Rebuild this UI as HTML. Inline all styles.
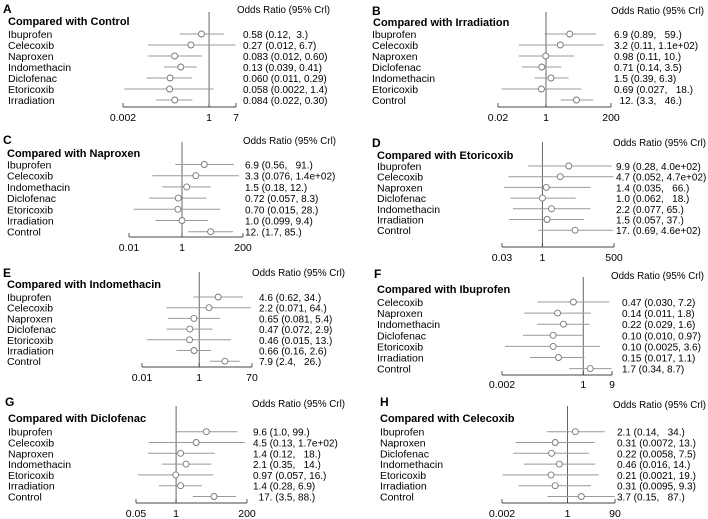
<!DOCTYPE html>
<html><head><meta charset="utf-8"><style>
html,body{margin:0;padding:0;background:#fff;}
svg{display:block;font-family:"Liberation Sans",Arial,sans-serif;}
</style></head><body>
<svg id="chart" width="708" height="519" viewBox="0 0 708 519" xmlns="http://www.w3.org/2000/svg"></svg>
<script>
// ---- data ----
const namesA=["Ibuprofen","Celecoxib","Naproxen","Indomethacin","Diclofenac","Etoricoxib","Irradiation"];
const estA=[0.58,0.27,0.083,0.13,0.060,0.058,0.084];
const loA=[0.12,0.012,0.012,0.039,0.011,0.0022,0.022];
const hiA=[3,6.7,0.60,0.41,0.29,1.4,0.30];
const txtA=["0.58 (0.12,  3.)","0.27 (0.012, 6.7)","0.083 (0.012, 0.60)","0.13 (0.039, 0.41)","0.060 (0.011, 0.29)","0.058 (0.0022, 1.4)","0.084 (0.022, 0.30)"];
const ticksA=["0.002","1","7"];

const namesB=["Ibuprofen","Celecoxib","Naproxen","Diclofenac","Indomethacin","Etoricoxib","Control"];
const estB=[6.9,3.2,0.98,0.71,1.5,0.69,12];
const loB=[0.89,0.11,0.11,0.14,0.39,0.027,3.3];
const hiB=[59,110,10,3.5,6.3,18,46];
const txtB=["6.9 (0.89,   59.)","3.2 (0.11, 1.1e+02)","0.98 (0.11, 10.)","0.71 (0.14, 3.5)","1.5 (0.39, 6.3)","0.69 (0.027,   18.)","  12. (3.3,   46.)"];
const ticksB=["0.02","1","200"];

const namesC=["Ibuprofen","Celecoxib","Indomethacin","Diclofenac","Etoricoxib","Irradiation","Control"];
const estC=[6.9,3.3,1.5,0.72,0.70,1.0,12];
const loC=[0.56,0.076,0.18,0.057,0.015,0.099,1.7];
const hiC=[91,140,12,8.3,28,9.4,85];
const txtC=["6.9 (0.56,   91.)","3.3 (0.076, 1.4e+02)","1.5 (0.18, 12.)","0.72 (0.057, 8.3)","0.70 (0.015, 28.)","1.0 (0.099, 9.4)","12. (1.7, 85.)"];
const ticksC=["0.01","1","200"];

const namesD=["Ibuprofen","Celecoxib","Naproxen","Diclofenac","Indomethacin","Irradiation","Control"];
const estD=[9.9,4.7,1.4,1.0,2.2,1.5,17];
const loD=[0.28,0.052,0.035,0.062,0.077,0.057,0.69];
const hiD=[400,470,66,18,65,37,460];
const txtD=["9.9 (0.28, 4.0e+02)","4.7 (0.052, 4.7e+02)","1.4 (0.035,   66.)","1.0 (0.062,   18.)","2.2 (0.077, 65.)","1.5 (0.057, 37.)","17. (0.69, 4.6e+02)"];
const ticksD=["0.03","1","500"];

const namesE=["Ibuprofen","Celecoxib","Naproxen","Diclofenac","Etoricoxib","Irradiation","Control"];
const estE=[4.6,2.2,0.65,0.47,0.46,0.66,7.9];
const loE=[0.62,0.071,0.081,0.072,0.015,0.16,2.4];
const hiE=[34,64,5.4,2.9,13,2.6,26];
const txtE=["4.6 (0.62, 34.)","2.2 (0.071, 64.)","0.65 (0.081, 5.4)","0.47 (0.072, 2.9)","0.46 (0.015, 13.)","0.66 (0.16, 2.6)","7.9 (2.4,   26.)"];
const ticksE=["0.01","1","70"];

const namesF=["Celecoxib","Naproxen","Indomethacin","Diclofenac","Etoricoxib","Irradiation","Control"];
const estF=[0.47,0.14,0.22,0.10,0.10,0.15,1.7];
const loF=[0.030,0.011,0.029,0.010,0.0025,0.017,0.34];
const hiF=[7.2,1.8,1.6,0.97,3.6,1.1,8.7];
const txtF=["0.47 (0.030, 7.2)","0.14 (0.011, 1.8)","0.22 (0.029, 1.6)","0.10 (0.010, 0.97)","0.10 (0.0025, 3.6)","0.15 (0.017, 1.1)","1.7 (0.34, 8.7)"];
const ticksF=["0.002","1","9"];

const namesG=["Ibuprofen","Celecoxib","Naproxen","Indomethacin","Etoricoxib","Irradiation","Control"];
const estG=[9.6,4.5,1.4,2.1,0.97,1.4,17];
const loG=[1.0,0.13,0.12,0.35,0.057,0.28,3.5];
const hiG=[99,170,18,14,16,6.9,88];
const txtG=["9.6 (1.0, 99.)","4.5 (0.13, 1.7e+02)","1.4 (0.12,   18.)","2.1 (0.35,   14.)","0.97 (0.057, 16.)","1.4 (0.28, 6.9)","  17. (3.5, 88.)"];
const ticksG=["0.05","1","200"];

const namesH=["Ibuprofen","Naproxen","Diclofenac","Indomethacin","Etoricoxib","Irradiation","Control"];
const estH=[2.1,0.31,0.22,0.46,0.21,0.31,3.7];
const loH=[0.14,0.0072,0.0058,0.016,0.0021,0.0095,0.15];
const hiH=[34,13,7.5,14,19,9.3,87];
const txtH=["2.1 (0.14,   34.)","0.31 (0.0072, 13.)","0.22 (0.0058, 7.5)","0.46 (0.016, 14.)","0.21 (0.0021, 19.)","0.31 (0.0095, 9.3)","3.7 (0.15,   87.)"];
const ticksH=["0.002","1","90"];

// ---- layout ----
const panels=[
 {id:"a",letter:"A",title:"Compared with Control",names:namesA,est:estA,lo:loA,hi:hiA,txt:txtA,ticks:ticksA,lx:3,ly:13,tx:8,ty:25,hx:237,hy:13,rowX:8,row0:34,step:11,axY:107,labY:121,x0:123,x1:236,valX:243,vTop:12},
 {id:"b",letter:"B",title:"Compared with Irradiation",names:namesB,est:estB,lo:loB,hi:hiB,txt:txtB,ticks:ticksB,lx:372,ly:15,tx:373,ty:26,hx:611,hy:14,rowX:372,row0:34,step:11,axY:107,labY:121,x0:498,x1:611,valX:614,vTop:12},
 {id:"c",letter:"C",title:"Compared with Naproxen",names:namesC,est:estC,lo:loC,hi:hiC,txt:txtC,ticks:ticksC,lx:3,ly:144,tx:7,ty:157,hx:243,hy:144,rowX:7,row0:164.5,step:11.2,axY:237,labY:251,x0:129,x1:243,valX:245,vTop:142},
 {id:"d",letter:"D",title:"Compared with Etoricoxib",names:namesD,est:estD,lo:loD,hi:hiD,txt:txtD,ticks:ticksD,lx:372,ly:147,tx:377,ty:159,hx:613,hy:146,rowX:377,row0:166,step:10.7,axY:247,labY:261,x0:502,x1:614,valX:616,vTop:142},
 {id:"e",letter:"E",title:"Compared with Indomethacin",names:namesE,est:estE,lo:loE,hi:hiE,txt:txtE,ticks:ticksE,lx:3,ly:277,tx:7,ty:288,hx:252,hy:276,rowX:7,row0:297,step:10.7,axY:367,labY:381,x0:142,x1:252,valX:259,vTop:272},
 {id:"f",letter:"F",title:"Compared with Ibuprofen",names:namesF,est:estF,lo:loF,hi:hiF,txt:txtF,ticks:ticksF,lx:374,ly:278,tx:377,ty:293,hx:611,hy:279,rowX:377,row0:302,step:11.1,axY:375,labY:388,x0:502,x1:612,valX:622,vTop:277},
 {id:"g",letter:"G",title:"Compared with Diclofenac",names:namesG,est:estG,lo:loG,hi:hiG,txt:txtG,ticks:ticksG,lx:5,ly:406,tx:8,ty:422,hx:252,hy:407,rowX:8,row0:431.7,step:10.8,axY:503,labY:517,x0:136,x1:247,valX:253,vTop:406},
 {id:"h",letter:"H",title:"Compared with Celecoxib",names:namesH,est:estH,lo:loH,hi:hiH,txt:txtH,ticks:ticksH,lx:380,ly:406,tx:380,ty:422,hx:613,hy:408,rowX:380,row0:431.7,step:10.8,axY:503,labY:517,x0:502,x1:615,valX:617,vTop:406}
];

const NS="http://www.w3.org/2000/svg";
const svg=document.getElementById("chart");
function mk(tag,attrs,parent,text){
  const e=document.createElementNS(NS,tag);
  for(const k in attrs)e.setAttribute(k,attrs[k]);
  if(text!==undefined)e.textContent=text;
  parent.appendChild(e);return e;
}
panels.forEach(p=>{
  const g=mk("g",{},svg);
  
  
  const lmin=Math.log10(parseFloat(p.ticks[0])), lmax=Math.log10(parseFloat(p.ticks[2]));
  const xs=v=>p.x0+(Math.log10(v)-lmin)/(lmax-lmin)*(p.x1-p.x0);
  const ys=i=>p.row0+i*p.step;
  let t=mk("text",{x:p.lx,y:p.ly,"font-size":"12","font-weight":"bold",fill:"#000"},g,p.letter);
  
  
  t=mk("text",{x:p.tx,y:p.ty,"font-size":"11","font-weight":"bold",fill:"#000"},g,p.title);
  
  
  t=mk("text",{x:p.hx,y:p.hy,"font-size":"10",fill:"#000",textLength:"93",lengthAdjust:"spacingAndGlyphs"},g,"Odds Ratio (95% Crl)");
  
  
  const rx=xs(1);
  let l=mk("line",{x1:rx,x2:rx,y1:p.vTop,y2:p.axY,stroke:"#555","stroke-width":"0.9"},g);
  
  
  l=mk("line",{x1:p.x0,x2:p.x1,y1:p.axY,y2:p.axY,stroke:"#444","stroke-width":"0.9"},g);
  
  
  p.ticks.forEach(tk=>{
    const x=xs(parseFloat(tk));
    const tl=mk("line",{x1:x,x2:x,y1:p.axY,y2:p.axY-4,stroke:"#444","stroke-width":"0.9"},g);
    
    
    const tt=mk("text",{x:x,y:p.labY,"font-size":"10.5","text-anchor":"middle",fill:"#000"},g,tk);
    
    
  });
  p.names.forEach((n,i)=>{
    const y=ys(i);
    const nl=mk("text",{x:p.rowX,y:y+4,"font-size":"10.5",fill:"#000"},g,n);
    
    
    const ci=mk("line",{x1:xs(p.lo[i]),x2:xs(p.hi[i]),y1:y,y2:y,stroke:"#999","stroke-width":"1"},g);
    
    
    const c=mk("circle",{cx:xs(p.est[i]),cy:y,r:"3",fill:"#fff",stroke:"#777","stroke-width":"0.9"},g);
    
    
    const vt=mk("text",{x:p.valX,y:y+4,"font-size":"10",fill:"#000"},g,p.txt[i]);
    vt.style.whiteSpace="pre";
    
    
  });
});
</script>
</body></html>
